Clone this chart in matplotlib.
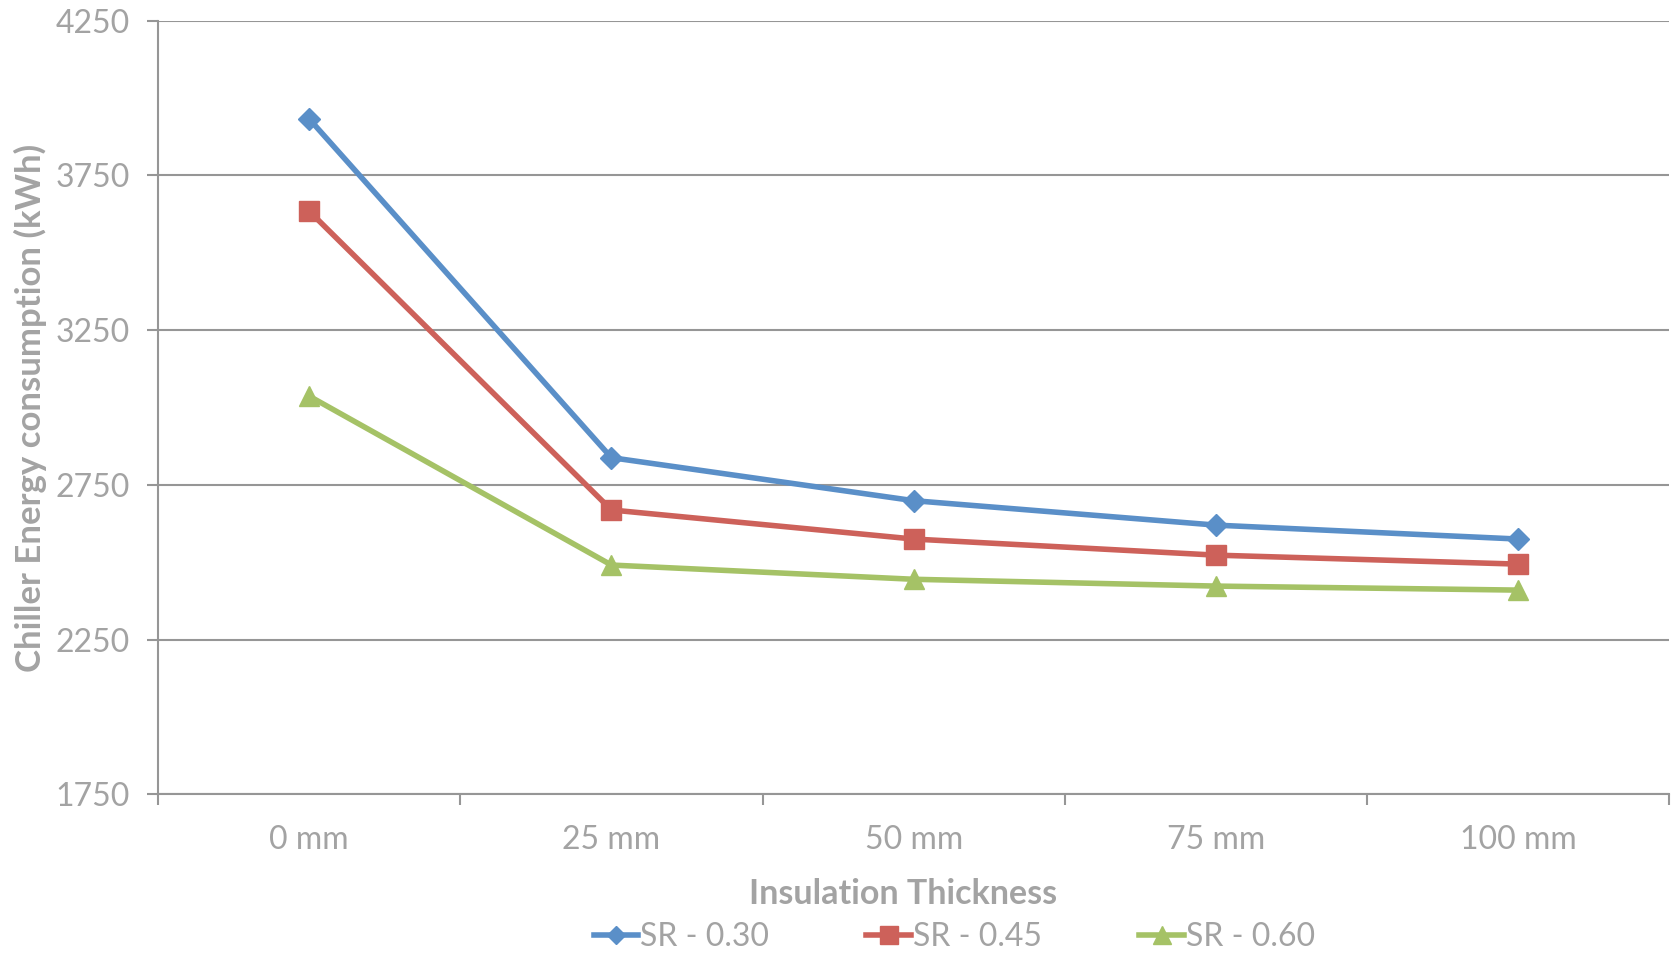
import matplotlib
matplotlib.use("Agg")
import matplotlib.pyplot as plt
from matplotlib.ticker import FixedLocator

# Chiller energy consumption vs. insulation thickness for three SR values
categories = ["0 mm", "25 mm", "50 mm", "75 mm", "100 mm"]
series_names = ["SR - 0.30", "SR - 0.45", "SR - 0.60"]
sr_030 = [3933, 2838, 2699, 2620, 2575]
sr_045 = [3635, 2669, 2575, 2523, 2494]
sr_060 = [3037, 2491, 2445, 2423, 2410]
y_ticks = [1750, 2250, 2750, 3250, 3750, 4250]

colors = ["#5A8FC8", "#CD615A", "#A5C266"]
markers = ["D", "s", "^"]
msizes = [11, 14.5, 15]
text_gray = "#A3A3A3"
axis_gray = "#969696"

plt.rcParams["font.family"] = ["Lato", "DejaVu Sans"]

fig = plt.figure(figsize=(16.77, 9.56), dpi=100)
ax = fig.add_axes([0.0942, 0.1691, 0.9013, 0.8092])

x = list(range(len(categories)))
for vals, name, c, m, ms in zip([sr_030, sr_045, sr_060], series_names, colors, markers, msizes):
    ax.plot(x, vals, color=c, lw=4, marker=m, ms=ms, mec=c, mfc=c, label=name,
            solid_joinstyle="round", zorder=3)

ax.set_xlim(-0.5, len(categories) - 0.5)
ax.set_ylim(y_ticks[0], y_ticks[-1])
ax.set_yticks(y_ticks)
ax.set_yticklabels([str(v) for v in y_ticks])
ax.set_xticks(x)
ax.set_xticklabels(categories)
ax.xaxis.set_minor_locator(FixedLocator([i - 0.5 for i in range(len(categories) + 1)]))

ax.tick_params(axis="x", which="major", length=0, pad=22, labelsize=23, labelcolor=text_gray)
ax.tick_params(axis="x", which="minor", length=8, width=1.5, color=axis_gray, direction="out")
ax.tick_params(axis="y", length=8, width=1.5, color=axis_gray, pad=12, labelsize=23,
               labelcolor=text_gray)

ax.grid(axis="y", color=axis_gray, lw=1.5, zorder=0)
ax.set_axisbelow(True)
for side in ["top", "right"]:
    ax.spines[side].set_visible(False)
for side in ["left", "bottom"]:
    ax.spines[side].set_color(axis_gray)
    ax.spines[side].set_linewidth(1.5)

ax.set_ylabel("Chiller Energy consumption (kWh)", fontsize=25, fontweight="bold",
              color=text_gray, labelpad=6)
ax.set_xlabel("Insulation Thickness", fontsize=24.5, fontweight="bold", color=text_gray)
ax.xaxis.set_label_coords(0.493, -0.1075)

leg = fig.legend(loc="lower center", bbox_to_anchor=(0.569, -0.026), ncol=3, frameon=False,
                 fontsize=23, handlelength=1.4, handletextpad=0.05, columnspacing=3.05,
                 markerscale=0.85)
for t in leg.get_texts():
    t.set_color(text_gray)

fig.savefig("out.png", dpi=100)
